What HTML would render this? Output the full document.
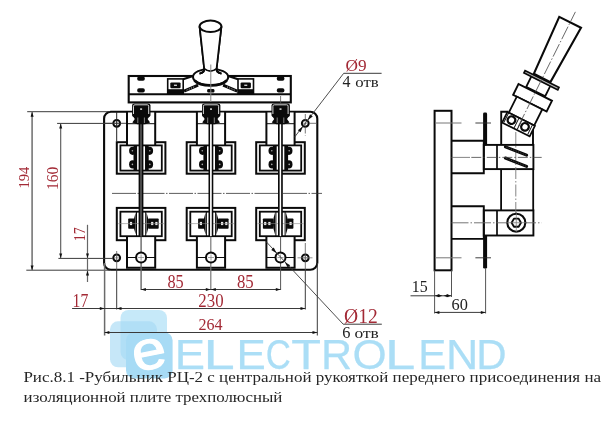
<!DOCTYPE html>
<html lang="ru"><head><meta charset="utf-8"><title>Рубильник РЦ-2</title>
<style>
html,body{margin:0;padding:0;background:#fff;}
body{width:615px;height:430px;overflow:hidden;}
svg{display:block;font-family:"Liberation Serif","DejaVu Serif",serif;will-change:transform;transform:translateZ(0);}
</style></head><body>
<svg width="615" height="430" viewBox="0 0 615 430">
<rect width="615" height="430" fill="#fff"/>
<g>
<rect x="120.5" y="310" width="46.5" height="50" rx="8" fill="#c6e9f9"/>
<rect x="110" y="321.3" width="47" height="46" rx="8" fill="#a6daf4" fill-opacity="0.64"/>
<rect x="126" y="332.4" width="46.6" height="46" rx="8" fill="#a7dbf5"/>
<text transform="translate(149.2 354.4) rotate(-11) scale(1.12 1)" x="-15.24" y="14.53" fill="#fff" stroke="#fff" stroke-width="1.1" stroke-linejoin="round" font-family="'Liberation Sans',sans-serif" font-size="55.0">e</text>
<text y="369.3" fill="#abdef6" stroke="#abdef6" stroke-width="0.25" font-family="'Liberation Sans',sans-serif" font-size="42.6"><tspan x="174.68" textLength="30.27" lengthAdjust="spacingAndGlyphs">E</tspan><tspan x="203.59" textLength="31.28" lengthAdjust="spacingAndGlyphs">L</tspan><tspan x="236.40" textLength="29.29" lengthAdjust="spacingAndGlyphs">E</tspan><tspan x="265.64" textLength="25.09" lengthAdjust="spacingAndGlyphs">C</tspan><tspan x="291.21" textLength="29.71" lengthAdjust="spacingAndGlyphs">T</tspan><tspan x="320.96" textLength="31.14" lengthAdjust="spacingAndGlyphs">R</tspan><tspan x="352.42" textLength="34.18" lengthAdjust="spacingAndGlyphs">O</tspan><tspan x="385.12" textLength="30.40" lengthAdjust="spacingAndGlyphs">L</tspan><tspan x="418.25" textLength="28.06" lengthAdjust="spacingAndGlyphs">E</tspan><tspan x="446.03" textLength="32.32" lengthAdjust="spacingAndGlyphs">N</tspan><tspan x="476.35" textLength="30.36" lengthAdjust="spacingAndGlyphs">D</tspan></text>
</g>
<path d="M110.9 111.7 H310.3 A7 7 0 0 1 317.3 118.7 V262.8 A7 7 0 0 1 310.3 269.8 H110.9 A6.8 6.8 0 0 1 104.1 263.0 V118.5 A6.8 6.8 0 0 1 110.9 111.7 Z" fill="#fff" stroke="#0a0a0a" stroke-width="2.1" />
<circle cx="116.70" cy="123.30" r="3.4" fill="none" stroke="#0a0a0a" stroke-width="2.0"/>
<line x1="114.20" y1="123.30" x2="119.20" y2="123.30" stroke="#777" stroke-width="0.6" />
<line x1="116.70" y1="120.80" x2="116.70" y2="125.80" stroke="#777" stroke-width="0.6" />
<circle cx="116.70" cy="257.80" r="3.4" fill="none" stroke="#0a0a0a" stroke-width="2.0"/>
<line x1="114.20" y1="257.80" x2="119.20" y2="257.80" stroke="#777" stroke-width="0.6" />
<line x1="116.70" y1="255.30" x2="116.70" y2="260.30" stroke="#777" stroke-width="0.6" />
<circle cx="305.30" cy="123.30" r="3.4" fill="none" stroke="#0a0a0a" stroke-width="2.0"/>
<line x1="302.80" y1="123.30" x2="307.80" y2="123.30" stroke="#777" stroke-width="0.6" />
<line x1="305.30" y1="120.80" x2="305.30" y2="125.80" stroke="#777" stroke-width="0.6" />
<circle cx="305.30" cy="257.80" r="3.4" fill="none" stroke="#0a0a0a" stroke-width="2.0"/>
<line x1="302.80" y1="257.80" x2="307.80" y2="257.80" stroke="#777" stroke-width="0.6" />
<line x1="305.30" y1="255.30" x2="305.30" y2="260.30" stroke="#777" stroke-width="0.6" />
<line x1="116.70" y1="111.70" x2="116.70" y2="141.00" stroke="#222" stroke-width="1.0" />
<line x1="104.10" y1="123.30" x2="128.00" y2="123.30" stroke="#333" stroke-width="0.9" />
<line x1="305.30" y1="114.00" x2="305.30" y2="136.00" stroke="#555" stroke-width="0.8" stroke-dasharray="7 2 1.5 2"/>
<line x1="309.00" y1="123.30" x2="317.00" y2="123.30" stroke="#555" stroke-width="0.8" />
<line x1="305.30" y1="243.00" x2="305.30" y2="270.00" stroke="#555" stroke-width="0.8" />
<line x1="297.50" y1="257.80" x2="312.50" y2="257.80" stroke="#777" stroke-width="0.8" />
<line x1="116.70" y1="251.00" x2="116.70" y2="270.00" stroke="#555" stroke-width="0.8" />
<line x1="112.00" y1="193.40" x2="322.00" y2="193.40" stroke="#333" stroke-width="0.8" stroke-dasharray="24 1.5 1.5 1.5"/>
<rect x="128.70" y="76.00" width="162.10" height="26.40" rx="0" fill="#fff" stroke="#0a0a0a" stroke-width="2.1" />
<line x1="128.70" y1="94.20" x2="290.80" y2="94.20" stroke="#0a0a0a" stroke-width="1.9" />
<rect x="137.20" y="76.4" width="7.6" height="4.4" rx="1.8" fill="#0a0a0a"/>
<rect x="137.20" y="88.2" width="7.6" height="4.4" rx="1.8" fill="#0a0a0a"/>
<rect x="276.80" y="76.4" width="7.6" height="4.4" rx="1.8" fill="#0a0a0a"/>
<rect x="276.80" y="88.2" width="7.6" height="4.4" rx="1.8" fill="#0a0a0a"/>
<rect x="167.70" y="78.90" width="15.50" height="14.70" rx="0" fill="none" stroke="#0a0a0a" stroke-width="1.6" />
<rect x="167.70" y="89.2" width="15.50" height="4.6" fill="#0a0a0a"/>
<rect x="170.30" y="82.4" width="10.30" height="5.8" rx="1.2" fill="#0a0a0a"/>
<rect x="173.95" y="84.6" width="3" height="1.4" fill="#ccc"/>
<line x1="183.20" y1="79.30" x2="193.00" y2="76.00" stroke="#0a0a0a" stroke-width="2.2" />
<line x1="184.00" y1="91.20" x2="198.10" y2="85.20" stroke="#0a0a0a" stroke-width="3.0" />
<line x1="186.60" y1="90.10" x2="194.60" y2="86.70" stroke="#e8e8e8" stroke-width="0.8" stroke-dasharray="1 1.4"/>
<rect x="238.00" y="78.90" width="15.50" height="14.70" rx="0" fill="none" stroke="#0a0a0a" stroke-width="1.6" />
<rect x="238.00" y="89.2" width="15.50" height="4.6" fill="#0a0a0a"/>
<rect x="240.60" y="82.4" width="10.30" height="5.8" rx="1.2" fill="#0a0a0a"/>
<rect x="244.25" y="84.6" width="3" height="1.4" fill="#ccc"/>
<line x1="238.00" y1="79.30" x2="228.20" y2="76.00" stroke="#0a0a0a" stroke-width="2.2" />
<line x1="237.20" y1="91.20" x2="223.10" y2="85.20" stroke="#0a0a0a" stroke-width="3.0" />
<line x1="234.60" y1="90.10" x2="226.60" y2="86.70" stroke="#e8e8e8" stroke-width="0.8" stroke-dasharray="1 1.4"/>
<ellipse cx="210.60" cy="77.00" rx="17.6" ry="8.3" fill="#fff" stroke="#0a0a0a" stroke-width="2.0"/>
<path d="M194.5 80.5 A17.6 8.3 0 0 0 226.7 80.5" fill="none" stroke="#0a0a0a" stroke-width="2.8" />
<path d="M199.6 26.3 L204.2 68.5 Q204.6 72.5 199.5 73.6 M221.4 26.3 L216.6 68.5 Q216.2 72.5 221.5 73.6" fill="none" stroke="#0a0a0a" stroke-width="1.8" />
<path d="M204.2 68.5 Q210.4 73.5 216.6 68.5" fill="none" stroke="#0a0a0a" stroke-width="1.6" />
<path d="M200 26.3 L204.6 69 Q210.4 73 216.2 69 L221 26.3 Z" fill="#fff"/>
<path d="M199.6 26.3 L204.2 68.5 Q204.6 72.5 199.5 73.6 M221.4 26.3 L216.6 68.5 Q216.2 72.5 221.5 73.6" fill="none" stroke="#0a0a0a" stroke-width="1.8" />
<path d="M204.2 68.5 Q210.4 73.5 216.6 68.5" fill="none" stroke="#0a0a0a" stroke-width="1.6" />
<ellipse cx="210.50" cy="26.30" rx="10.9" ry="5.7" fill="#fff" stroke="#0a0a0a" stroke-width="2.0"/>
<rect x="207.2" y="89.0" width="7.2" height="3.4" rx="1.2" fill="#0a0a0a"/>
<line x1="210.80" y1="64.50" x2="210.80" y2="102.00" stroke="#888" stroke-width="1.0" />
<rect x="116.80" y="142.20" width="48.60" height="31.50" rx="0" fill="none" stroke="#0a0a0a" stroke-width="2.0" />
<rect x="127.00" y="112.6" width="28.20" height="33" fill="#fff"/>
<line x1="127.00" y1="111.70" x2="127.00" y2="145.40" stroke="#0a0a0a" stroke-width="2.0" />
<line x1="155.20" y1="111.70" x2="155.20" y2="145.40" stroke="#0a0a0a" stroke-width="2.0" />
<line x1="127.00" y1="123.70" x2="155.20" y2="123.70" stroke="#0a0a0a" stroke-width="1.0" />
<rect x="120.40" y="145.40" width="41.40" height="25.20" rx="0" fill="none" stroke="#0a0a0a" stroke-width="1.8" />
<rect x="116.80" y="207.90" width="48.60" height="32.30" rx="0" fill="none" stroke="#0a0a0a" stroke-width="2.0" />
<rect x="127.00" y="236.2" width="28.20" height="31" fill="#fff"/>
<rect x="120.40" y="211.70" width="41.40" height="24.50" rx="0" fill="none" stroke="#0a0a0a" stroke-width="1.8" />
<path d="M127.00 236.2 V267.8 H155.20 V236.2" fill="none" stroke="#0a0a0a" stroke-width="2.0" />
<line x1="127.00" y1="257.50" x2="155.20" y2="257.50" stroke="#0a0a0a" stroke-width="1.0" />
<line x1="136.50" y1="145.40" x2="136.50" y2="170.60" stroke="#0a0a0a" stroke-width="1.0" />
<line x1="136.50" y1="211.70" x2="136.50" y2="236.20" stroke="#0a0a0a" stroke-width="1.0" />
<line x1="145.70" y1="145.40" x2="145.70" y2="170.60" stroke="#0a0a0a" stroke-width="1.0" />
<line x1="145.70" y1="211.70" x2="145.70" y2="236.20" stroke="#0a0a0a" stroke-width="1.0" />
<rect x="133.50" y="146" width="3.6" height="24" fill="#0a0a0a"/>
<ellipse cx="132.70" cy="150.8" rx="3.6" ry="4.1" fill="#0a0a0a"/>
<circle cx="132.40" cy="150.8" r="0.8" fill="#aaa"/>
<ellipse cx="132.70" cy="164.4" rx="3.6" ry="4.1" fill="#0a0a0a"/>
<circle cx="132.40" cy="164.4" r="0.8" fill="#aaa"/>
<rect x="145.10" y="146" width="3.6" height="24" fill="#0a0a0a"/>
<ellipse cx="149.50" cy="150.8" rx="3.6" ry="4.1" fill="#0a0a0a"/>
<circle cx="149.80" cy="150.8" r="0.8" fill="#aaa"/>
<ellipse cx="149.50" cy="164.4" rx="3.6" ry="4.1" fill="#0a0a0a"/>
<circle cx="149.80" cy="164.4" r="0.8" fill="#aaa"/>
<rect x="128.20" y="218.4" width="6.30" height="10.4" rx="0.8" fill="#0a0a0a"/>
<rect x="129.90" y="221.9" width="2.20" height="3.2" fill="#eee"/>
<rect x="148.10" y="218.4" width="10.60" height="10.4" rx="0.8" fill="#0a0a0a"/>
<rect x="151.10" y="221.9" width="2.20" height="3.2" fill="#eee"/>
<rect x="155.30" y="221.9" width="2.20" height="3.2" fill="#eee"/>
<path d="M135.70 212.4 Q131.50 223.5 135.70 234.6 Z" fill="#0a0a0a"/>
<path d="M146.50 212.4 Q150.70 223.5 146.50 234.6 Z" fill="#0a0a0a"/>
<line x1="118.10" y1="223.60" x2="164.10" y2="223.60" stroke="#888" stroke-width="0.6" />
<rect x="138.60" y="112" width="4.8" height="124" fill="#0a0a0a"/>
<line x1="141.00" y1="118.00" x2="141.00" y2="236.00" stroke="#999" stroke-width="0.9" />
<rect x="132.10" y="103.4" width="18.4" height="13.6" rx="2.2" fill="#0a0a0a"/>
<path d="M133.50 114 V106.2 Q133.50 104.8 134.90 104.8 H147.30 Q148.70 104.8 148.70 106.2 V114" fill="none" stroke="#d8d8d8" stroke-width="1.0"/>
<rect x="140.10" y="108.4" width="2.0" height="1.4" fill="#eee"/>
<polygon points="132.10,115 150.50,115 147.60,119 150.10,122.5 145.10,124.3 137.10,124.3 132.30,122.5 134.80,119" fill="#0a0a0a"/>
<line x1="137.80" y1="117.50" x2="137.80" y2="123.00" stroke="#bbb" stroke-width="0.7" />
<line x1="144.40" y1="117.50" x2="144.40" y2="123.00" stroke="#bbb" stroke-width="0.7" />
<rect x="186.70" y="142.20" width="48.60" height="31.50" rx="0" fill="none" stroke="#0a0a0a" stroke-width="2.0" />
<rect x="196.90" y="112.6" width="28.20" height="33" fill="#fff"/>
<line x1="196.90" y1="111.70" x2="196.90" y2="145.40" stroke="#0a0a0a" stroke-width="2.0" />
<line x1="225.10" y1="111.70" x2="225.10" y2="145.40" stroke="#0a0a0a" stroke-width="2.0" />
<line x1="196.90" y1="123.70" x2="225.10" y2="123.70" stroke="#0a0a0a" stroke-width="1.0" />
<rect x="190.30" y="145.40" width="41.40" height="25.20" rx="0" fill="none" stroke="#0a0a0a" stroke-width="1.8" />
<rect x="186.70" y="207.90" width="48.60" height="32.30" rx="0" fill="none" stroke="#0a0a0a" stroke-width="2.0" />
<rect x="196.90" y="236.2" width="28.20" height="31" fill="#fff"/>
<rect x="190.30" y="211.70" width="41.40" height="24.50" rx="0" fill="none" stroke="#0a0a0a" stroke-width="1.8" />
<path d="M196.90 236.2 V267.8 H225.10 V236.2" fill="none" stroke="#0a0a0a" stroke-width="2.0" />
<line x1="196.90" y1="257.50" x2="225.10" y2="257.50" stroke="#0a0a0a" stroke-width="1.0" />
<line x1="206.40" y1="145.40" x2="206.40" y2="170.60" stroke="#0a0a0a" stroke-width="1.0" />
<line x1="206.40" y1="211.70" x2="206.40" y2="236.20" stroke="#0a0a0a" stroke-width="1.0" />
<line x1="215.60" y1="145.40" x2="215.60" y2="170.60" stroke="#0a0a0a" stroke-width="1.0" />
<line x1="215.60" y1="211.70" x2="215.60" y2="236.20" stroke="#0a0a0a" stroke-width="1.0" />
<rect x="203.40" y="146" width="3.6" height="24" fill="#0a0a0a"/>
<ellipse cx="202.60" cy="150.8" rx="3.6" ry="4.1" fill="#0a0a0a"/>
<circle cx="202.30" cy="150.8" r="0.8" fill="#aaa"/>
<ellipse cx="202.60" cy="164.4" rx="3.6" ry="4.1" fill="#0a0a0a"/>
<circle cx="202.30" cy="164.4" r="0.8" fill="#aaa"/>
<rect x="215.00" y="146" width="3.6" height="24" fill="#0a0a0a"/>
<ellipse cx="219.40" cy="150.8" rx="3.6" ry="4.1" fill="#0a0a0a"/>
<circle cx="219.70" cy="150.8" r="0.8" fill="#aaa"/>
<ellipse cx="219.40" cy="164.4" rx="3.6" ry="4.1" fill="#0a0a0a"/>
<circle cx="219.70" cy="164.4" r="0.8" fill="#aaa"/>
<rect x="198.10" y="218.4" width="6.30" height="10.4" rx="0.8" fill="#0a0a0a"/>
<rect x="199.80" y="221.9" width="2.20" height="3.2" fill="#eee"/>
<rect x="218.00" y="218.4" width="10.60" height="10.4" rx="0.8" fill="#0a0a0a"/>
<rect x="221.00" y="221.9" width="2.20" height="3.2" fill="#eee"/>
<rect x="225.20" y="221.9" width="2.20" height="3.2" fill="#eee"/>
<path d="M205.60 212.4 Q201.40 223.5 205.60 234.6 Z" fill="#0a0a0a"/>
<path d="M216.40 212.4 Q220.60 223.5 216.40 234.6 Z" fill="#0a0a0a"/>
<line x1="188.00" y1="223.60" x2="234.00" y2="223.60" stroke="#888" stroke-width="0.6" />
<rect x="208.50" y="112" width="4.8" height="124" fill="#0a0a0a"/>
<line x1="210.90" y1="118.00" x2="210.90" y2="236.00" stroke="#fff" stroke-width="1.7" />
<rect x="202.00" y="103.4" width="18.4" height="13.6" rx="2.2" fill="#0a0a0a"/>
<path d="M203.40 114 V106.2 Q203.40 104.8 204.80 104.8 H217.20 Q218.60 104.8 218.60 106.2 V114" fill="none" stroke="#d8d8d8" stroke-width="1.0"/>
<rect x="210.00" y="108.4" width="2.0" height="1.4" fill="#eee"/>
<polygon points="202.00,115 220.40,115 217.50,119 220.00,122.5 215.00,124.3 207.00,124.3 202.20,122.5 204.70,119" fill="#0a0a0a"/>
<line x1="207.70" y1="117.50" x2="207.70" y2="123.00" stroke="#bbb" stroke-width="0.7" />
<line x1="214.30" y1="117.50" x2="214.30" y2="123.00" stroke="#bbb" stroke-width="0.7" />
<rect x="256.20" y="142.20" width="48.60" height="31.50" rx="0" fill="none" stroke="#0a0a0a" stroke-width="2.0" />
<rect x="266.40" y="112.6" width="28.20" height="33" fill="#fff"/>
<line x1="266.40" y1="111.70" x2="266.40" y2="145.40" stroke="#0a0a0a" stroke-width="2.0" />
<line x1="294.60" y1="111.70" x2="294.60" y2="145.40" stroke="#0a0a0a" stroke-width="2.0" />
<line x1="266.40" y1="123.70" x2="294.60" y2="123.70" stroke="#0a0a0a" stroke-width="1.0" />
<rect x="259.80" y="145.40" width="41.40" height="25.20" rx="0" fill="none" stroke="#0a0a0a" stroke-width="1.8" />
<rect x="256.20" y="207.90" width="48.60" height="32.30" rx="0" fill="none" stroke="#0a0a0a" stroke-width="2.0" />
<rect x="266.40" y="236.2" width="28.20" height="31" fill="#fff"/>
<rect x="259.80" y="211.70" width="41.40" height="24.50" rx="0" fill="none" stroke="#0a0a0a" stroke-width="1.8" />
<path d="M266.40 236.2 V267.8 H294.60 V236.2" fill="none" stroke="#0a0a0a" stroke-width="2.0" />
<line x1="266.40" y1="257.50" x2="294.60" y2="257.50" stroke="#0a0a0a" stroke-width="1.0" />
<line x1="275.90" y1="145.40" x2="275.90" y2="170.60" stroke="#0a0a0a" stroke-width="1.0" />
<line x1="275.90" y1="211.70" x2="275.90" y2="236.20" stroke="#0a0a0a" stroke-width="1.0" />
<line x1="285.10" y1="145.40" x2="285.10" y2="170.60" stroke="#0a0a0a" stroke-width="1.0" />
<line x1="285.10" y1="211.70" x2="285.10" y2="236.20" stroke="#0a0a0a" stroke-width="1.0" />
<rect x="272.90" y="146" width="3.6" height="24" fill="#0a0a0a"/>
<ellipse cx="272.10" cy="150.8" rx="3.6" ry="4.1" fill="#0a0a0a"/>
<circle cx="271.80" cy="150.8" r="0.8" fill="#aaa"/>
<ellipse cx="272.10" cy="164.4" rx="3.6" ry="4.1" fill="#0a0a0a"/>
<circle cx="271.80" cy="164.4" r="0.8" fill="#aaa"/>
<rect x="284.50" y="146" width="3.6" height="24" fill="#0a0a0a"/>
<ellipse cx="288.90" cy="150.8" rx="3.6" ry="4.1" fill="#0a0a0a"/>
<circle cx="289.20" cy="150.8" r="0.8" fill="#aaa"/>
<ellipse cx="288.90" cy="164.4" rx="3.6" ry="4.1" fill="#0a0a0a"/>
<circle cx="289.20" cy="164.4" r="0.8" fill="#aaa"/>
<rect x="287.10" y="218.4" width="6.30" height="10.4" rx="0.8" fill="#0a0a0a"/>
<rect x="289.50" y="221.9" width="2.20" height="3.2" fill="#eee"/>
<rect x="262.90" y="218.4" width="10.60" height="10.4" rx="0.8" fill="#0a0a0a"/>
<rect x="268.30" y="221.9" width="2.20" height="3.2" fill="#eee"/>
<rect x="264.10" y="221.9" width="2.20" height="3.2" fill="#eee"/>
<path d="M275.10 212.4 Q270.90 223.5 275.10 234.6 Z" fill="#0a0a0a"/>
<path d="M285.90 212.4 Q290.10 223.5 285.90 234.6 Z" fill="#0a0a0a"/>
<line x1="257.50" y1="223.60" x2="303.50" y2="223.60" stroke="#888" stroke-width="0.6" />
<rect x="278.00" y="112" width="4.8" height="124" fill="#0a0a0a"/>
<line x1="280.40" y1="118.00" x2="280.40" y2="236.00" stroke="#fff" stroke-width="1.5" />
<rect x="271.50" y="103.4" width="18.4" height="13.6" rx="2.2" fill="#0a0a0a"/>
<path d="M272.90 114 V106.2 Q272.90 104.8 274.30 104.8 H286.70 Q288.10 104.8 288.10 106.2 V114" fill="none" stroke="#d8d8d8" stroke-width="1.0"/>
<rect x="279.50" y="108.4" width="2.0" height="1.4" fill="#eee"/>
<polygon points="271.50,115 289.90,115 287.00,119 289.50,122.5 284.50,124.3 276.50,124.3 271.70,122.5 274.20,119" fill="#0a0a0a"/>
<line x1="277.20" y1="117.50" x2="277.20" y2="123.00" stroke="#bbb" stroke-width="0.7" />
<line x1="283.80" y1="117.50" x2="283.80" y2="123.00" stroke="#bbb" stroke-width="0.7" />
<line x1="210.80" y1="236.50" x2="210.80" y2="290.00" stroke="#777" stroke-width="1.2" />
<line x1="141.10" y1="236.50" x2="141.10" y2="290.00" stroke="#666" stroke-width="1.4" />
<line x1="280.60" y1="236.50" x2="280.60" y2="290.00" stroke="#555" stroke-width="1.0" />
<line x1="280.60" y1="96.00" x2="280.60" y2="104.00" stroke="#555" stroke-width="0.8" />
<circle cx="141.10" cy="257.50" r="5.0" fill="#fff" stroke="#0a0a0a" stroke-width="2.0"/>
<line x1="138.10" y1="257.50" x2="144.10" y2="257.50" stroke="#8a8a8a" stroke-width="0.8" />
<line x1="141.10" y1="254.50" x2="141.10" y2="260.50" stroke="#8a8a8a" stroke-width="0.8" />
<circle cx="211.00" cy="257.50" r="5.0" fill="#fff" stroke="#0a0a0a" stroke-width="2.0"/>
<line x1="208.00" y1="257.50" x2="214.00" y2="257.50" stroke="#8a8a8a" stroke-width="0.8" />
<line x1="211.00" y1="254.50" x2="211.00" y2="260.50" stroke="#8a8a8a" stroke-width="0.8" />
<circle cx="280.50" cy="257.50" r="5.0" fill="#fff" stroke="#0a0a0a" stroke-width="2.0"/>
<line x1="277.50" y1="257.50" x2="283.50" y2="257.50" stroke="#8a8a8a" stroke-width="0.8" />
<line x1="280.50" y1="254.50" x2="280.50" y2="260.50" stroke="#8a8a8a" stroke-width="0.8" />
<line x1="27.20" y1="111.70" x2="110.00" y2="111.70" stroke="#3a3a3a" stroke-width="1.0" />
<line x1="26.30" y1="270.20" x2="110.00" y2="270.20" stroke="#3a3a3a" stroke-width="1.0" />
<line x1="32.10" y1="111.70" x2="32.10" y2="270.40" stroke="#777" stroke-width="1.6" />
<polygon points="32.10,111.90 33.60,116.70 30.60,116.70" fill="#111"/>
<polygon points="32.10,270.20 30.60,265.40 33.60,265.40" fill="#111"/>
<line x1="57.10" y1="123.40" x2="113.00" y2="123.40" stroke="#3a3a3a" stroke-width="1.0" />
<line x1="58.40" y1="258.40" x2="113.00" y2="258.40" stroke="#3a3a3a" stroke-width="1.0" />
<line x1="60.70" y1="123.40" x2="60.70" y2="258.40" stroke="#555" stroke-width="1.1" />
<polygon points="60.70,123.60 62.20,128.40 59.20,128.40" fill="#111"/>
<polygon points="60.70,258.20 59.20,253.40 62.20,253.40" fill="#111"/>
<line x1="87.50" y1="224.80" x2="87.50" y2="282.00" stroke="#666" stroke-width="1.2" />
<polygon points="87.50,258.20 86.00,253.40 89.00,253.40" fill="#111"/>
<polygon points="87.50,270.60 89.00,275.40 86.00,275.40" fill="#111"/>
<text transform="translate(28.75 188.48) rotate(-90) scale(0.9767 1)" fill="#a32a36" font-size="14.88">194</text>
<text transform="translate(57.85 190.07) rotate(-90) scale(0.9822 1)" fill="#a32a36" font-size="15.86">160</text>
<text transform="translate(84.80 241.22) rotate(-90) scale(0.8282 1)" fill="#a32a36" font-size="16.81">17</text>
<line x1="104.60" y1="263.00" x2="104.60" y2="335.50" stroke="#6a6a6a" stroke-width="1.5" />
<line x1="116.70" y1="270.00" x2="116.70" y2="309.50" stroke="#3a3a3a" stroke-width="1.0" />
<line x1="305.30" y1="270.00" x2="305.30" y2="309.50" stroke="#3a3a3a" stroke-width="1.0" />
<line x1="317.30" y1="263.00" x2="317.30" y2="335.50" stroke="#3a3a3a" stroke-width="1.0" />
<line x1="141.10" y1="289.50" x2="280.60" y2="289.50" stroke="#3a3a3a" stroke-width="1.0" />
<polygon points="141.10,289.50 145.90,288.00 145.90,291.00" fill="#111"/>
<polygon points="210.60,289.50 205.80,291.00 205.80,288.00" fill="#111"/>
<polygon points="211.00,289.50 215.80,288.00 215.80,291.00" fill="#111"/>
<polygon points="280.60,289.50 275.80,291.00 275.80,288.00" fill="#111"/>
<line x1="72.10" y1="308.50" x2="305.30" y2="308.50" stroke="#3a3a3a" stroke-width="1.0" />
<polygon points="104.60,308.50 99.80,310.00 99.80,307.00" fill="#111"/>
<polygon points="116.70,308.50 121.50,307.00 121.50,310.00" fill="#111"/>
<polygon points="305.30,308.50 300.50,310.00 300.50,307.00" fill="#111"/>
<line x1="104.60" y1="332.50" x2="317.30" y2="332.50" stroke="#3a3a3a" stroke-width="1.0" />
<polygon points="104.60,332.50 109.40,331.00 109.40,334.00" fill="#111"/>
<polygon points="317.30,332.50 312.50,334.00 312.50,331.00" fill="#111"/>
<text transform="translate(167.38 287.52) scale(0.8920 1)" fill="#a32a36" font-size="18.22">85</text>
<text transform="translate(236.96 287.52) scale(0.9218 1)" fill="#a32a36" font-size="18.22">85</text>
<text transform="translate(198.36 306.62) scale(0.9133 1)" fill="#a32a36" font-size="18.38">230</text>
<text transform="translate(198.40 329.93) scale(0.9076 1)" fill="#a32a36" font-size="17.67">264</text>
<text transform="translate(72.62 306.70) scale(0.8522 1)" fill="#a32a36" font-size="18.47">17</text>
<line x1="343.70" y1="73.30" x2="381.60" y2="73.30" stroke="#3a3a3a" stroke-width="1.0" />
<line x1="343.70" y1="73.30" x2="294.50" y2="137.20" stroke="#3a3a3a" stroke-width="0.9" />
<polygon points="307.60,120.30 310.04,114.35 312.73,116.43" fill="#111"/>
<polygon points="303.00,126.30 300.56,132.25 297.87,130.17" fill="#111"/>
<text transform="translate(345.59 71.04) scale(1.0235 1)" fill="#a32a36" font-size="16.88">Ø9</text>
<text y="86.80" fill="#222222" font-size="16.75"><tspan x="342.59" textLength="7.96" lengthAdjust="spacingAndGlyphs">4</tspan> <tspan x="355.37" font-size="14.74" textLength="23.40" lengthAdjust="spacingAndGlyphs">отв</tspan></text>
<line x1="343.20" y1="324.20" x2="381.80" y2="324.20" stroke="#3a3a3a" stroke-width="1.0" />
<line x1="343.20" y1="324.20" x2="266.00" y2="241.50" stroke="#3a3a3a" stroke-width="0.9" />
<polygon points="276.70,253.30 271.23,249.93 273.71,247.61" fill="#111"/>
<polygon points="284.70,261.90 290.17,265.27 287.69,267.59" fill="#111"/>
<text transform="translate(344.10 322.70) scale(0.8917 1)" fill="#a32a36" font-size="21.93">Ø12</text>
<text y="338.00" fill="#222222" font-size="17.35"><tspan x="342.20" textLength="8.19" lengthAdjust="spacingAndGlyphs">6</tspan> <tspan x="354.44" font-size="15.27" textLength="24.35" lengthAdjust="spacingAndGlyphs">отв</tspan></text>
<rect x="434.60" y="110.80" width="16.90" height="159.50" rx="0" fill="#fff" stroke="#0a0a0a" stroke-width="2.0" />
<path d="M451.5 140.7 H483.8 V173.3 H451.5" fill="none" stroke="#0a0a0a" stroke-width="1.9" />
<path d="M451.5 206.3 H483.8 V238.9 H451.5" fill="none" stroke="#0a0a0a" stroke-width="1.9" />
<rect x="483.1" y="112.6" width="4.0" height="33" rx="1.4" fill="#0a0a0a"/>
<rect x="483.1" y="235" width="4.0" height="33.6" rx="1.4" fill="#0a0a0a"/>
<rect x="483.80" y="144.90" width="49.60" height="24.20" rx="0" fill="none" stroke="#0a0a0a" stroke-width="1.9" />
<line x1="497.00" y1="144.90" x2="497.00" y2="169.10" stroke="#0a0a0a" stroke-width="1.7" />
<rect x="483.80" y="210.40" width="49.60" height="25.10" rx="0" fill="none" stroke="#0a0a0a" stroke-width="1.9" />
<line x1="497.00" y1="210.40" x2="497.00" y2="235.50" stroke="#0a0a0a" stroke-width="1.7" />
<line x1="501.10" y1="169.10" x2="501.10" y2="210.40" stroke="#0a0a0a" stroke-width="1.8" />
<line x1="533.20" y1="169.10" x2="533.20" y2="210.40" stroke="#0a0a0a" stroke-width="1.8" />
<line x1="515.80" y1="132.00" x2="515.80" y2="222.00" stroke="#777" stroke-width="0.9" stroke-dasharray="12 2 1.5 2"/>
<line x1="505.40" y1="146.80" x2="526.60" y2="155.20" stroke="#0a0a0a" stroke-width="3.0" stroke-linecap="round"/>
<line x1="506.40" y1="147.20" x2="525.60" y2="154.80" stroke="#777" stroke-width="0.6" stroke-dasharray="1 1.5"/>
<line x1="505.40" y1="158.00" x2="526.60" y2="166.40" stroke="#0a0a0a" stroke-width="3.0" stroke-linecap="round"/>
<line x1="506.40" y1="158.40" x2="525.60" y2="166.00" stroke="#777" stroke-width="0.6" stroke-dasharray="1 1.5"/>
<line x1="471.30" y1="157.40" x2="541.70" y2="157.40" stroke="#444" stroke-width="0.8" stroke-dasharray="10 2 1.5 2"/>
<line x1="451.50" y1="222.80" x2="541.70" y2="222.80" stroke="#666" stroke-width="0.9" stroke-dasharray="17 2 1.5 2"/>
<line x1="451.50" y1="157.40" x2="470.00" y2="157.40" stroke="#666" stroke-width="0.8" />
<line x1="435.00" y1="123.00" x2="461.50" y2="123.00" stroke="#777" stroke-width="1.0" />
<line x1="475.40" y1="123.00" x2="491.00" y2="123.00" stroke="#2a2a2a" stroke-width="0.9" />
<line x1="435.00" y1="257.80" x2="461.50" y2="257.80" stroke="#777" stroke-width="1.0" />
<line x1="475.40" y1="257.80" x2="491.00" y2="257.80" stroke="#2a2a2a" stroke-width="0.9" />
<circle cx="516.30" cy="222.70" r="9.0" fill="#fff" stroke="#0a0a0a" stroke-width="2.1"/>
<polygon points="521.00,222.70 518.65,226.77 513.95,226.77 511.60,222.70 513.95,218.63 518.65,218.63" fill="#f4f4f4" stroke="#0a0a0a" stroke-width="1.8" stroke-linejoin="round"/>
<line x1="506.00" y1="222.70" x2="527.00" y2="222.70" stroke="#777" stroke-width="0.7" />
<line x1="516.30" y1="212.00" x2="516.30" y2="233.00" stroke="#777" stroke-width="0.7" />
<path d="M508.5 111.8 H501.2 V144.9" fill="none" stroke="#0a0a0a" stroke-width="1.9" />
<line x1="533.00" y1="124.50" x2="533.00" y2="144.90" stroke="#0a0a0a" stroke-width="1.9" />
<g transform="translate(516.5 130) rotate(26.5)">
<path d="M-9.6 -58 L-12.2 -120.3 L12.1 -120.3 L9.0 -58 Z" fill="#fff" stroke="#0a0a0a" stroke-width="2.1" stroke-linejoin="miter"/>
<rect x="-10.6" y="-55" width="21.2" height="12" fill="#fff" stroke="#0a0a0a" stroke-width="1.8"/>
<rect x="-18.8" y="-57.0" width="37.8" height="2.6000000000000014" fill="#bbb" stroke="#0a0a0a" stroke-width="1.7"/>
<rect x="-18.7" y="-42" width="37.4" height="12" fill="#fff" stroke="#0a0a0a" stroke-width="1.9"/>
<rect x="-14.6" y="-30" width="28.4" height="18" fill="#fff" stroke="#0a0a0a" stroke-width="1.8"/>
<rect x="-16.2" y="-12" width="30.799999999999997" height="11.8" fill="#fff" stroke="#0a0a0a" stroke-width="1.7"/>
<circle cx="-8.9" cy="-6.6" r="3.8" fill="#fff" stroke="#0a0a0a" stroke-width="2.3"/>
<path d="M-14.7 -1 V-12 M-3.1000000000000005 -1 V-12" stroke="#0a0a0a" stroke-width="0.9" fill="none"/>
<circle cx="6.2" cy="-6.6" r="3.8" fill="#fff" stroke="#0a0a0a" stroke-width="2.3"/>
<path d="M0.40000000000000036 -1 V-12 M12.0 -1 V-12" stroke="#0a0a0a" stroke-width="0.9" fill="none"/>
<line x1="0" y1="-4" x2="0" y2="-132" stroke="#555" stroke-width="0.8" stroke-dasharray="14 2 1.5 2"/>
</g>
<line x1="434.60" y1="270.30" x2="434.60" y2="313.50" stroke="#555" stroke-width="1.0" />
<line x1="451.50" y1="270.30" x2="451.50" y2="297.00" stroke="#555" stroke-width="1.0" />
<line x1="485.60" y1="268.00" x2="485.60" y2="313.50" stroke="#555" stroke-width="1.0" />
<line x1="410.50" y1="295.80" x2="451.50" y2="295.80" stroke="#3a3a3a" stroke-width="1.0" />
<polygon points="434.60,295.80 439.40,294.30 439.40,297.30" fill="#111"/>
<polygon points="442.60,295.80 437.80,297.30 437.80,294.30" fill="#111"/>
<polygon points="443.40,295.80 448.20,294.30 448.20,297.30" fill="#111"/>
<polygon points="451.50,295.80 446.70,297.30 446.70,294.30" fill="#111"/>
<line x1="434.60" y1="312.40" x2="485.60" y2="312.40" stroke="#3a3a3a" stroke-width="1.0" />
<polygon points="434.60,312.40 439.40,310.90 439.40,313.90" fill="#111"/>
<polygon points="485.60,312.40 480.80,313.90 480.80,310.90" fill="#111"/>
<text transform="translate(411.70 291.73) scale(0.9065 1)" fill="#222222" font-size="17.56">15</text>
<text transform="translate(451.60 310.23) scale(0.9278 1)" fill="#222222" font-size="17.59">60</text>
<text x="23.41" y="382.2" fill="#262626" font-size="15.3" textLength="577.62" lengthAdjust="spacingAndGlyphs">Рис.8.1 -Рубильник РЦ-2 с центральной рукояткой переднего присоединения на</text>
<text x="23.60" y="401.9" fill="#262626" font-size="15.3" textLength="258.80" lengthAdjust="spacingAndGlyphs">изоляционной плите трехполюсный</text>
</svg>
</body></html>
